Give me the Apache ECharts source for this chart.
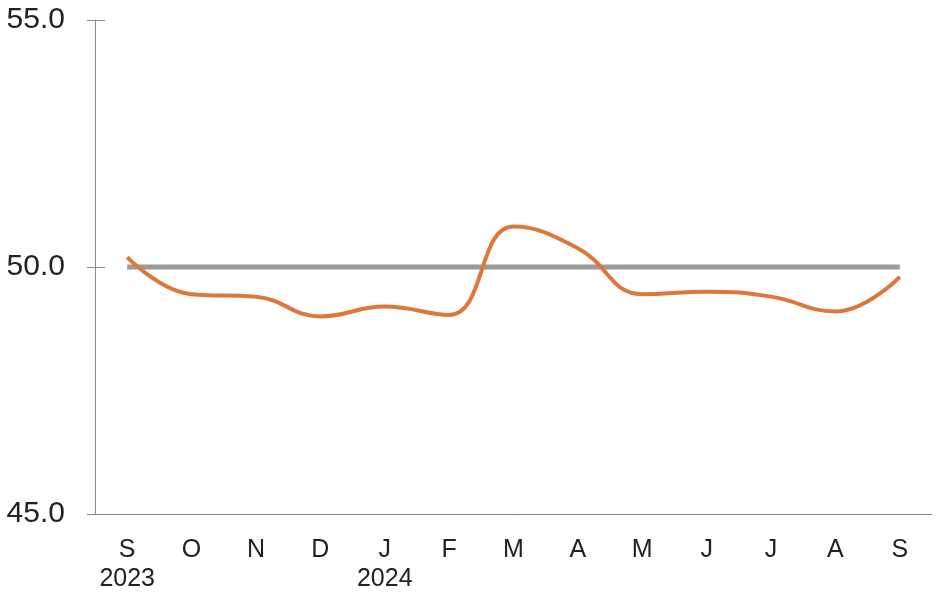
<!DOCTYPE html>
<html>
<head>
<meta charset="utf-8">
<script src="https://cdn.jsdelivr.net/npm/echarts@6/dist/echarts.min.js"></script>
<style>
  html, body { margin: 0; padding: 0; background: #fff; }
  #chart { width: 937px; height: 594px; }
</style>
</head>
<body>
<div id="chart"></div>
<script>
// Monthly index, Sep 2023 - Sep 2024, against the 50 threshold
const months = ["S\n2023", "O", "N", "D", "J\n2024", "F", "M", "A", "M", "J", "J", "A", "S"];
const indexValues = [50.2, 49.45, 49.4, 49.0, 49.2, 49.03, 50.82, 50.38, 49.45, 49.5, 49.4, 49.1, 49.8];
const threshold = [50, 50, 50, 50, 50, 50, 50, 50, 50, 50, 50, 50, 50];
const yTicks = { min: 45, max: 55, interval: 5 };

const AXIS = "#8a8a8a";
const INK = "#222";
const FONT = "Liberation Sans, Arial, sans-serif";

const chart = echarts.init(document.getElementById("chart"), null, { renderer: "canvas" });
chart.setOption({
  animation: false,
  grid: { left: 95, right: 5, top: 20, bottom: 79 },
  textStyle: { fontFamily: FONT },
  xAxis: {
    type: "category",
    data: months,
    boundaryGap: true,
    axisLine: { lineStyle: { color: AXIS, width: 1 } },
    axisTick: { alignWithLabel: true, inside: true, length: 5, lineStyle: { color: AXIS } },
    axisLabel: { color: INK, fontSize: 25, lineHeight: 29, margin: 22, interval: 0 },
    splitLine: { show: false },
  },
  yAxis: [
    {
      type: "value",
      position: "left",
      min: yTicks.min,
      max: yTicks.max,
      interval: yTicks.interval,
      axisLine: { show: true, lineStyle: { color: AXIS, width: 1 } },
      axisTick: { show: false },
      axisLabel: {
        color: INK,
        fontSize: 30,
        margin: 30,
        formatter: (v) => v.toFixed(1),
      },
      splitLine: { show: false },
    },
    {
      // ticks that cross the axis line
      type: "value",
      position: "left",
      offset: -10,
      min: yTicks.min,
      max: yTicks.max,
      interval: yTicks.interval,
      axisLine: { show: false },
      axisTick: { show: true, length: 18, lineStyle: { color: AXIS } },
      axisLabel: { show: false },
      splitLine: { show: false },
    },
  ],
  series: [
    {
      name: "threshold",
      type: "line",
      data: threshold,
      showSymbol: false,
      lineStyle: { color: "#9a9a9a", width: 5 },
      z: 2,
    },
    {
      name: "index",
      type: "line",
      data: indexValues,
      smooth: 0.45,
      showSymbol: false,
      lineStyle: { color: "#e0773a", width: 4 },
      z: 3,
    },
  ],
});
</script>
</body>
</html>
